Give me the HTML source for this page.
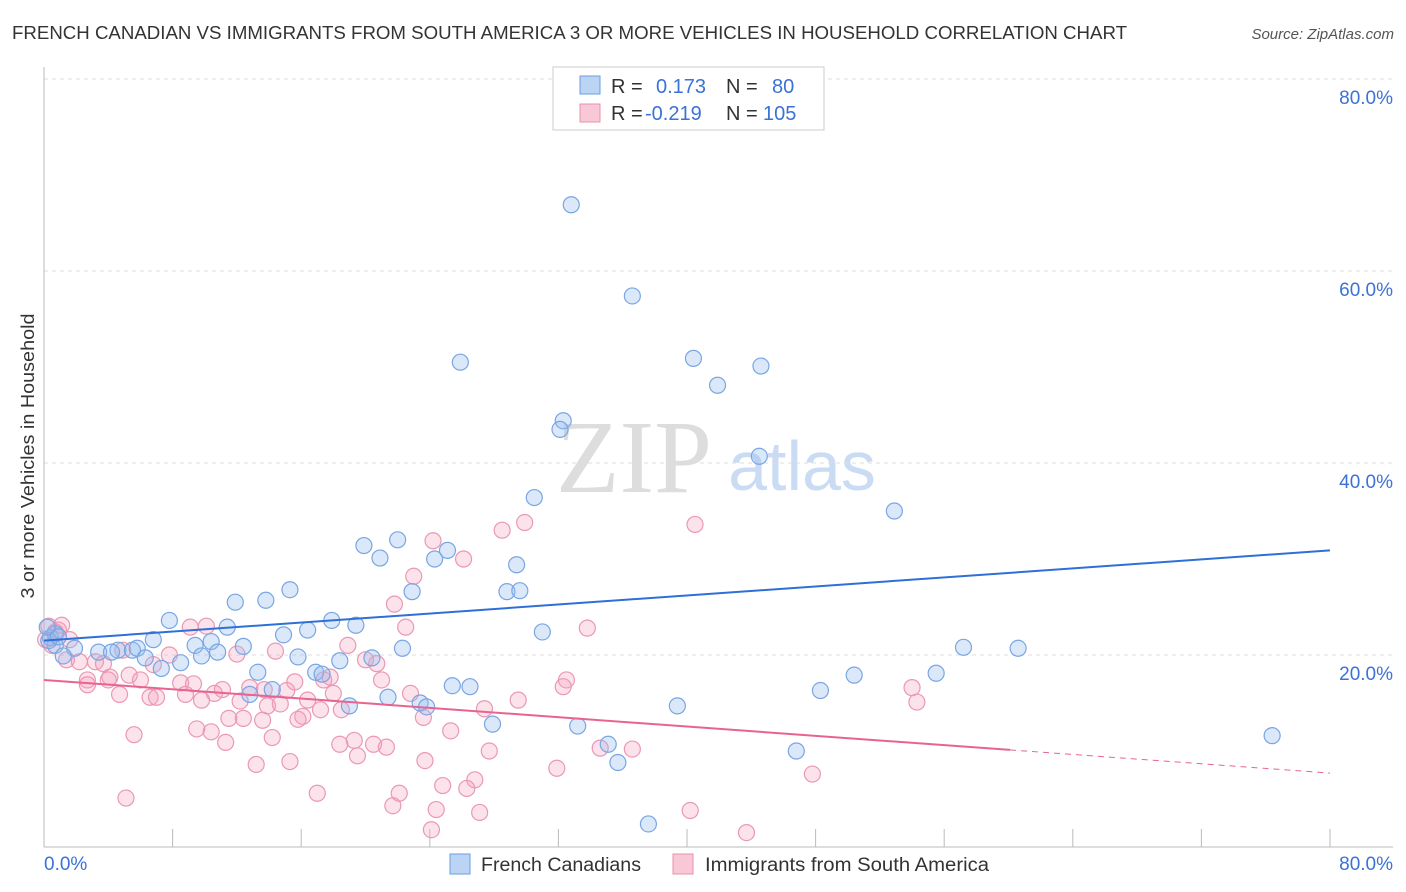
<!DOCTYPE html>
<html><head><meta charset="utf-8">
<style>
body{margin:0;background:#fff;font-family:"Liberation Sans",sans-serif;}
#wrap{position:relative;width:1406px;height:892px;overflow:hidden;}
</style></head>
<body>
<div id="wrap">
<svg id="chart" width="1406" height="892" xmlns="http://www.w3.org/2000/svg">
<text x="12" y="39" font-size="18" fill="#333" textLength="1115" lengthAdjust="spacingAndGlyphs">FRENCH CANADIAN VS IMMIGRANTS FROM SOUTH AMERICA 3 OR MORE VEHICLES IN HOUSEHOLD CORRELATION CHART</text>
<text x="1394" y="39" font-size="15" fill="#555" font-style="italic" text-anchor="end">Source: ZipAtlas.com</text>
<text x="634" y="492" font-size="104" fill="#ddd" font-family="Liberation Serif,serif" text-anchor="middle">ZIP</text>
<text x="802" y="490" font-size="70" fill="#c9dcf3" text-anchor="middle">atlas</text>
<text transform="translate(34,456) rotate(-90)" font-size="18" fill="#333" text-anchor="middle" textLength="285" lengthAdjust="spacingAndGlyphs">3 or more Vehicles in Household</text>
<g id="grid"></g><g id="axes"></g><g id="pts"></g><g id="trend"></g>
<g>
<rect x="553" y="67" width="271" height="63" fill="#fff" stroke="#ccc"/>
<rect x="580" y="76" width="20" height="18" fill="#bcd4f4" stroke="#6a9ee0"/>
<rect x="580" y="104" width="20" height="18" fill="#f9c8d6" stroke="#e890ab"/>
<text x="611" y="93" font-size="20" fill="#333">R =</text><text x="656" y="93" font-size="20" fill="#3a72d6">0.173</text>
<text x="726" y="93" font-size="20" fill="#333">N =</text><text x="772" y="93" font-size="20" fill="#3a72d6">80</text>
<text x="611" y="120" font-size="20" fill="#333">R =</text><text x="645" y="120" font-size="20" fill="#3a72d6">-0.219</text>
<text x="726" y="120" font-size="20" fill="#333">N =</text><text x="763" y="120" font-size="20" fill="#3a72d6">105</text>
</g>
<g>
<rect x="450" y="854" width="20" height="20" fill="#bcd4f4" stroke="#6a9ee0"/>
<text x="481" y="871" font-size="19" fill="#333" textLength="160" lengthAdjust="spacingAndGlyphs">French Canadians</text>
<rect x="673" y="854" width="20" height="20" fill="#f9c8d6" stroke="#e890ab"/>
<text x="705" y="871" font-size="19" fill="#333" textLength="284" lengthAdjust="spacingAndGlyphs">Immigrants from South America</text>
</g>
</svg>
</div>
<script>
const blueX=[32.8,36.6,25.9,40.4,44.6,41.9,32.3,32.1,44.5,30.5,52.9,19.9,22.0,25.1,24.3,20.9,29.4,22.9,28.8,29.6,15.3,13.8,11.9,7.8,17.9,19.4,16.4,11.4,31.0,14.9,22.3,57.2,60.6,6.8,10.4,9.4,12.4,4.6,3.4,1.9,0.7,0.4,0.7,1.2,5.5,5.8,4.2,6.3,9.8,10.8,8.5,15.8,7.3,18.4,20.4,13.3,16.9,17.3,55.5,50.4,25.4,26.5,14.2,12.8,21.4,48.3,19.0,23.4,23.8,39.4,27.9,33.2,35.1,46.8,35.7,76.4,37.6,0.3,0.2,0.9];
const blueY=[66.9,57.4,50.5,50.9,50.1,48.1,44.4,43.5,40.7,36.4,35.0,31.4,32.0,30.9,30.0,30.1,29.4,26.6,26.6,26.7,26.8,25.7,25.5,23.6,23.6,23.1,22.6,22.9,22.4,22.1,20.7,20.8,20.7,21.6,21.4,21.0,20.9,20.5,20.3,20.7,21.0,21.8,22.2,19.9,20.5,20.7,20.3,19.7,19.9,20.3,19.2,19.8,18.6,19.4,19.7,18.2,18.2,18.0,18.1,17.9,16.8,16.7,16.4,15.9,15.6,16.3,14.7,15.0,14.6,14.7,12.8,12.6,10.7,10.0,8.8,11.6,2.4,21.5,22.9,21.9];
const pinkX=[24.2,28.5,29.9,40.5,26.1,23.0,21.8,33.8,22.5,9.1,10.1,0.3,0.9,0.1,18.9,4.9,7.8,12.0,14.4,3.2,1.4,2.2,3.7,20.7,20.0,6.8,5.3,6.0,4.1,2.7,8.5,9.3,4.0,2.7,17.4,17.8,32.5,32.3,21.0,15.6,15.1,11.1,12.8,10.6,18.0,22.8,4.7,6.6,8.8,13.7,7.0,9.8,16.4,29.5,54.0,54.3,12.2,13.9,14.7,17.2,18.5,27.4,16.1,11.5,12.4,15.8,13.6,23.6,25.3,9.5,10.4,5.6,14.2,11.3,19.3,18.4,20.5,21.3,27.7,34.6,36.6,19.5,23.7,15.3,13.2,31.9,47.8,26.8,24.8,26.3,22.1,17.0,5.1,21.7,24.4,27.1,40.2,24.1,43.7,0.7,1.1,1.6,0.5];
const pinkY=[31.9,33.0,33.8,33.6,30.0,28.2,25.3,22.8,22.9,22.9,23.0,23.0,22.6,21.6,21.0,20.5,20.0,20.1,20.4,19.3,19.5,19.3,19.1,19.1,19.5,19.0,17.9,17.4,17.7,17.4,17.1,17.0,17.4,16.9,17.4,17.7,17.4,16.7,17.4,17.2,16.3,16.4,16.6,16.0,16.0,16.0,15.9,15.6,15.9,16.4,15.6,15.3,15.3,15.3,16.6,15.1,15.2,14.7,14.9,14.3,14.3,14.4,13.6,13.4,13.4,13.3,13.2,13.5,12.1,12.3,12.0,11.7,11.4,10.9,11.1,10.7,10.7,10.4,10.0,10.3,10.2,9.5,9.0,8.9,8.6,8.2,7.6,7.0,6.4,6.1,5.6,5.6,5.1,4.3,3.9,3.6,3.8,1.8,1.5,22.4,23.1,21.6,21.0];
const yTicks=[20,40,60,80];
const yTickLabels=["20.0%","40.0%","60.0%","80.0%"];
const xTicks=[0,8,16,24,32,40,48,56,64,72,80];
const blueTrend=[21.5,30.9];
const pinkTrend=[17.4,7.7];
const pinkSolidEnd=60.1;

const NS="http://www.w3.org/2000/svg";
const X0=44,X1=1330,Y0=847,Y80=79;
const sx=v=>X0+(X1-X0)*v/80;
const sy=v=>Y0-(Y0-Y80)*v/80;
function mk(tag,attrs,parent){const e=document.createElementNS(NS,tag);for(const k in attrs)e.setAttribute(k,attrs[k]);document.getElementById(parent).appendChild(e);return e;}

yTicks.forEach((t,i)=>{
  const g=mk('line',{x1:X0,x2:1393,y1:sy(t),y2:sy(t),stroke:'#ddd','stroke-dasharray':'4,4'},'grid');
  
  
  const l=mk('text',{x:1393,y:sy(t)+25,'font-size':19,fill:'#3a72d6','text-anchor':'end'},'grid');
  l.textContent=yTickLabels[i];
  
  
});
const ax=mk('line',{x1:X0,x2:X0,y1:67,y2:Y0,stroke:'#bbb'},'axes');


const bx=mk('line',{x1:X0,x2:1393,y1:Y0,y2:Y0,stroke:'#bbb'},'axes');


xTicks.forEach(t=>{
  const k=mk('line',{x1:sx(t),x2:sx(t),y1:829,y2:Y0,stroke:'#bbb'},'axes');
  
  
});
const xl0=mk('text',{x:44,y:870,'font-size':19,fill:'#3a72d6'},'axes');xl0.textContent='0.0%';


const xl1=mk('text',{x:1393,y:870,'font-size':19,fill:'#3a72d6','text-anchor':'end'},'axes');xl1.textContent='80.0%';



pinkX.forEach((x,i)=>{
  const c=mk('circle',{cx:sx(x),cy:sy(pinkY[i]),r:8,fill:'rgba(244,160,188,0.3)',stroke:'#eb98b3','stroke-width':1.2},'pts');
  
  
});
blueX.forEach((x,i)=>{
  const c=mk('circle',{cx:sx(x),cy:sy(blueY[i]),r:8,fill:'rgba(150,190,240,0.35)',stroke:'#79a6e2','stroke-width':1.2},'pts');
  
  
});
const bt=mk('line',{x1:sx(0),y1:sy(blueTrend[0]),x2:sx(80),y2:sy(blueTrend[1]),stroke:'#2f6fd8','stroke-width':2},'trend');


const pm=pinkTrend[0]+(pinkTrend[1]-pinkTrend[0])*pinkSolidEnd/80;
const pt=mk('line',{x1:sx(0),y1:sy(pinkTrend[0]),x2:sx(pinkSolidEnd),y2:sy(pm),stroke:'#e8648f','stroke-width':2},'trend');


const pd=mk('line',{x1:sx(pinkSolidEnd),y1:sy(pm),x2:sx(80),y2:sy(pinkTrend[1]),stroke:'#e8648f','stroke-width':1,'stroke-dasharray':'6,5'},'trend');


</script>
</body></html>
